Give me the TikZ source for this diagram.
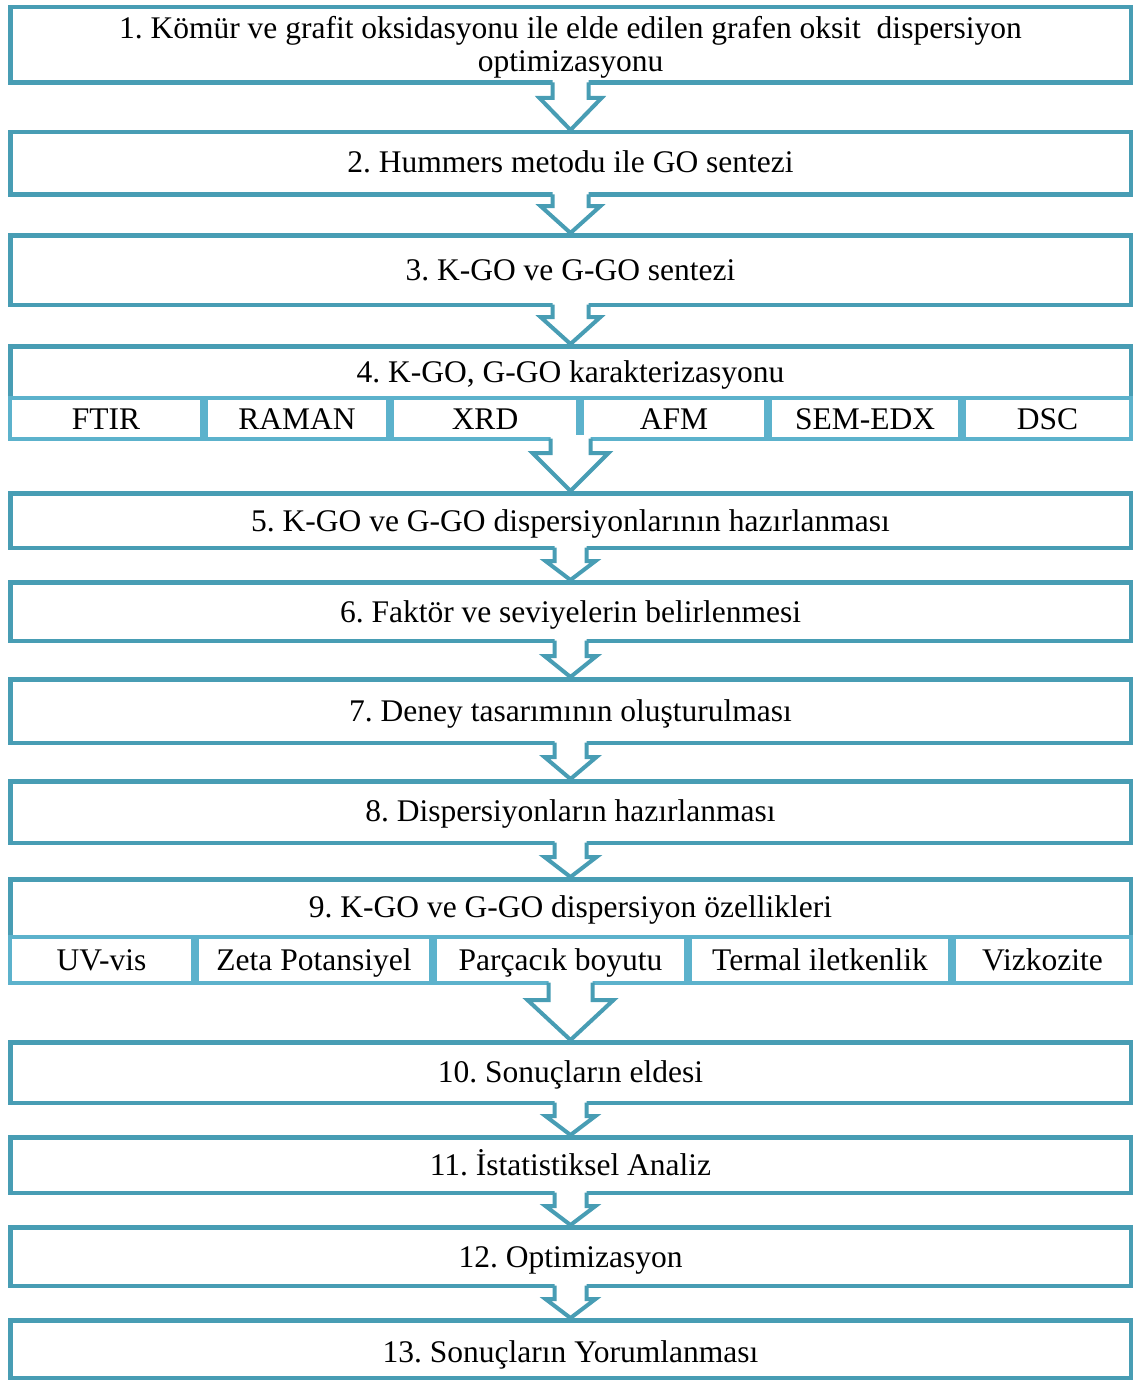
\documentclass[tikz,border=0pt]{standalone}
\usepackage{fontspec}
\setmainfont{Liberation Serif}
\frenchspacing
\usetikzlibrary{positioning,calc}
\definecolor{boxteal}{RGB}{72,157,180}
\definecolor{cellteal}{RGB}{92,178,204}
\tikzset{
  stepbox/.style={draw=boxteal, line width=4.5pt, fill=white, minimum width=1120.5pt, inner sep=0pt},
  cellbox/.style={draw=cellteal, line width=4pt, fill=white, inner sep=0pt},
  steptext/.style={font=\fontsize{31.5}{33}\selectfont, align=center, inner sep=0pt},
  linetext/.style={steptext, text height=26pt, text depth=6pt},
  flowline/.style={draw=boxteal, line width=4pt, line join=miter}
}
% hollow block arrow: from, to, half stem, half head, head offset
\newcommand{\downblock}[5]{%
  \fill[white] ($(#1.south)+(-#3,-6)$) -- ($(#1.south)+(-#3,#5)$) -- ($(#1.south)+(-#4,#5)$) -- (#2.north)
    -- ($(#1.south)+(#4,#5)$) -- ($(#1.south)+(#3,#5)$) -- ($(#1.south)+(#3,-6)$) -- cycle;
  \draw[flowline] ($(#1.south)+(-#3,-2.5)$) -- ($(#1.south)+(-#3,#5)$) -- ($(#1.south)+(-#4,#5)$) -- (#2.north)
    -- ($(#1.south)+(#4,#5)$) -- ($(#1.south)+(#3,#5)$) -- ($(#1.south)+(#3,-2.5)$);
}

\begin{document}
\begin{tikzpicture}[x=1pt,y=-1pt]
\useasboundingbox (0,0) rectangle (1136,1383);
%----boxes----%
\node[stepbox, minimum height=75.5] (s1) at (570.5,45) {};
\node[steptext] (t1) at (570.5,47.5) {1. Kömür ve grafit oksidasyonu ile elde edilen grafen oksit\ \ dispersiyon\\optimizasyonu};
\node[stepbox, minimum height=62.5] (s2) at (570.5,163.5) {};
\node[linetext] (t2) at (570.5,163) {2. Hummers metodu ile GO sentezi};
\node[stepbox, minimum height=69.5] (s3) at (570.5,270) {};
\node[linetext] (t3) at (570.5,270) {3. K-GO ve G-GO sentezi};
\node[stepbox, minimum height=92.5] (s4) at (570.5,392.5) {};
\node[linetext] (t4) at (570.5,372) {4. K-GO, G-GO karakterizasyonu};
\node[stepbox, minimum height=54.5] (s5) at (570.5,520.5) {};
\node[linetext] (t5) at (570.5,521) {5. K-GO ve G-GO dispersiyonlarının hazırlanması};
\node[stepbox, minimum height=58.5] (s6) at (570.5,611.5) {};
\node[linetext] (t6) at (570.5,612) {6. Faktör ve seviyelerin belirlenmesi};
\node[stepbox, minimum height=63.5] (s7) at (570.5,711) {};
\node[linetext] (t7) at (570.5,711) {7. Deney tasarımının oluşturulması};
\node[stepbox, minimum height=61.5] (s8) at (570.5,812) {};
\node[linetext] (t8) at (570.5,811) {8. Dispersiyonların hazırlanması};
\node[stepbox, minimum height=103.5] (s9) at (570.5,931) {};
\node[linetext] (t9) at (570.5,907) {9. K-GO ve G-GO dispersiyon özellikleri};
\node[stepbox, minimum height=60.5] (s10) at (570.5,1072.5) {};
\node[linetext] (t10) at (570.5,1072) {10. Sonuçların eldesi};
\node[stepbox, minimum height=55.5] (s11) at (570.5,1165) {};
\node[linetext] (t11) at (570.5,1165) {11. İstatistiksel Analiz};
\node[stepbox, minimum height=58.5] (s12) at (570.5,1256.5) {};
\node[linetext] (t12) at (570.5,1257) {12. Optimizasyon};
\node[stepbox, minimum height=57.5] (s13) at (570.5,1349) {};
\node[linetext] (t13) at (570.5,1352) {13. Sonuçların Yorumlanması};
%----cells of 4----%
\node[cellbox, minimum width=192, minimum height=40.5] (ftir) at (106,418.5) {};
\node[cellbox, minimum width=182, minimum height=40.5] (raman) at (297,418.5) {};
\node[cellbox, minimum width=186, minimum height=40.5] (xrd) at (485,418.5) {};
\node[cellbox, minimum width=184, minimum height=40.5] (afm) at (674,418.5) {};
\node[cellbox, minimum width=190, minimum height=40.5] (sem) at (865,418.5) {};
\node[cellbox, minimum width=167, minimum height=40.5] (dsc) at (1047.5,418.5) {};
\node[linetext] at ($(ftir)+(0,1)$) {FTIR};
\node[linetext] at ($(raman)+(0,1)$) {RAMAN};
\node[linetext] at ($(xrd)+(0,1)$) {XRD};
\node[linetext] at ($(afm)+(0,1)$) {AFM};
\node[linetext] at ($(sem)+(0,1)$) {SEM-EDX};
\node[linetext] at ($(dsc)+(0,1)$) {DSC};
%----cells of 9----%
\node[cellbox, minimum width=183, minimum height=46] (uv) at (101.5,960) {};
\node[cellbox, minimum width=234, minimum height=46] (zeta) at (314,960) {};
\node[cellbox, minimum width=251, minimum height=46] (size) at (560.5,960) {};
\node[cellbox, minimum width=260, minimum height=46] (therm) at (820,960) {};
\node[cellbox, minimum width=177, minimum height=46] (visc) at (1042.5,960) {};
\node[linetext] at (uv) {UV-vis};
\node[linetext] at (zeta) {Zeta Potansiyel};
\node[linetext] at (size) {Parçacık boyutu};
\node[linetext] at (therm) {Termal iletkenlik};
\node[linetext] at (visc) {Vizkozite};
%----arrows----%
\downblock{s1}{s2}{18}{31}{13}
\downblock{s2}{s3}{18}{30}{9}
\downblock{s3}{s4}{18}{30}{10}
\downblock{s4}{s5}{20}{38}{12}
\downblock{s5}{s6}{16}{25}{11}
\downblock{s6}{s7}{16}{26}{13}
\downblock{s7}{s8}{16}{26}{12}
\downblock{s8}{s9}{16}{26}{12}
\downblock{s9}{s10}{22}{43}{15}
\downblock{s10}{s11}{16}{25}{11}
\downblock{s11}{s12}{16}{25}{11}
\downblock{s12}{s13}{16}{25}{11}
\end{tikzpicture}
\end{document}
